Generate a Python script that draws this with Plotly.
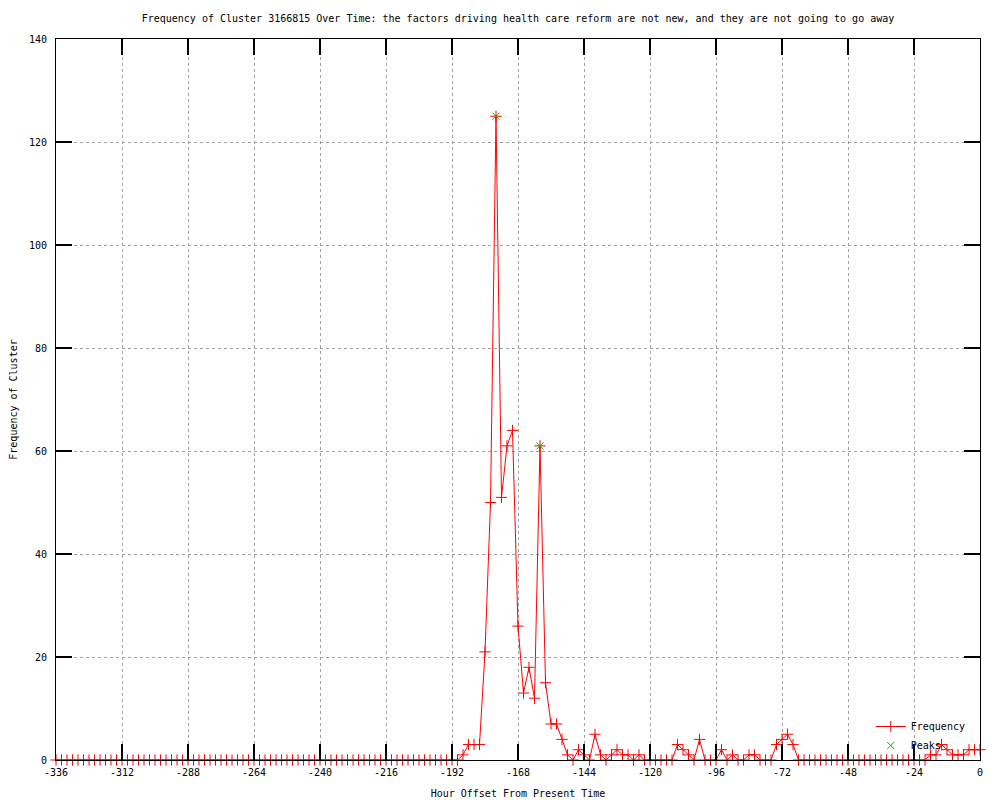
import plotly.graph_objects as go

# Hour offsets (every 2 hours from -336 to 0)
hours = list(range(-336, 1, 2))

# Frequency per 2-hour bin (one row per 24 hours)
frequency = [
    0, 0, 0, 0, 0, 0, 0, 0, 0, 0, 0, 0,
    0, 0, 0, 0, 0, 0, 0, 0, 0, 0, 0, 0,
    0, 0, 0, 0, 0, 0, 0, 0, 0, 0, 0, 0,
    0, 0, 0, 0, 0, 0, 0, 0, 0, 0, 0, 0,
    0, 0, 0, 0, 0, 0, 0, 0, 0, 0, 0, 0,
    0, 0, 0, 0, 0, 0, 0, 0, 0, 0, 0, 0,
    0, 0, 1, 3, 3, 3, 21, 50, 125, 51, 61, 64,
    26, 13, 18, 12, 61, 15, 7, 7, 4, 1, 0, 2,
    1, 0, 5, 1, 0, 1, 2, 1, 1, 0, 1, 0,
    0, 0, 0, 0, 0, 3, 2, 1, 0, 4, 0, 0,
    0, 2, 0, 1, 0, 0, 1, 1, 0, 0, 0, 3,
    4, 5, 3, 0, 0, 0, 0, 0, 0, 0, 0, 0,
    0, 0, 0, 0, 0, 0, 0, 0, 0, 0, 0, 0,
    0, 0, 0, 1, 1, 3, 2, 1, 1, 1, 2, 2,
    2,
]

peak_hours = [-176, -160]
peak_values = [125, 61]

x_tick_vals = [-336, -312, -288, -264, -240, -216, -192, -168, -144, -120, -96, -72, -48, -24, 0]
x_tick_text = [str(v) for v in x_tick_vals]
y_tick_vals = [0, 20, 40, 60, 80, 100, 120, 140]
y_tick_text = [str(v) for v in y_tick_vals]

FONT = "DejaVu Sans Mono"

fig = go.Figure()
fig.add_trace(go.Scatter(
    x=hours, y=frequency, mode="lines+markers", name="Frequency",
    line=dict(color="#ff0000", width=1), cliponaxis=False,
    marker=dict(symbol="cross-thin", size=8, line=dict(color="#ff0000", width=1), color="#ff0000"),
))
fig.add_trace(go.Scatter(
    x=peak_hours, y=peak_values, mode="markers", name="Peaks", cliponaxis=False,
    marker=dict(symbol="x-thin", size=7, line=dict(color="#00b000", width=1), color="#00b000"),
))

axis_common = dict(
    showline=True, linecolor="black", linewidth=1, mirror="ticks",
    ticks="inside", ticklen=16, tickcolor="#000000", tickwidth=1.5,
    showgrid=True, gridcolor="#a0a0a0", griddash="dot", gridwidth=1,
    zeroline=False, automargin=False, layer="above traces",
    tickfont=dict(family=FONT, size=10, color="black"),
)

fig.update_layout(
    width=1000, height=800,
    margin=dict(l=48, r=28, t=31, b=48, autoexpand=False),
    paper_bgcolor="white", plot_bgcolor="white",
    font=dict(family=FONT, size=10, color="black"),
    title=dict(
        text="Frequency of Cluster 3166815 Over Time: the factors driving health care reform are not new, and they are not going to go away",
        x=0.51, xanchor="center", y=1 - 10 / 800, yanchor="middle",
        font=dict(family=FONT, size=10, color="black"),
    ),
    xaxis=dict(
        range=[-336, 0], tickmode="array", tickvals=x_tick_vals, ticktext=x_tick_text,
        title=dict(text="Hour Offset From Present Time", font=dict(family=FONT, size=10), standoff=12),
        ticklabelstandoff=3,
        **axis_common,
    ),
    yaxis=dict(
        range=[0, 140], tickmode="array", tickvals=y_tick_vals, ticktext=y_tick_text,
        title=dict(text="Frequency of Cluster", font=dict(family=FONT, size=10), standoff=10),
        ticklabelstandoff=6,
        **axis_common,
    ),
    legend=dict(
        x=0.99, y=0.0, xanchor="right", yanchor="bottom",
        bgcolor="rgba(0,0,0,0)", font=dict(family=FONT, size=10),
        tracegroupgap=0, itemwidth=30,
    ),
    showlegend=True,
)

fig.write_html("out.html")
